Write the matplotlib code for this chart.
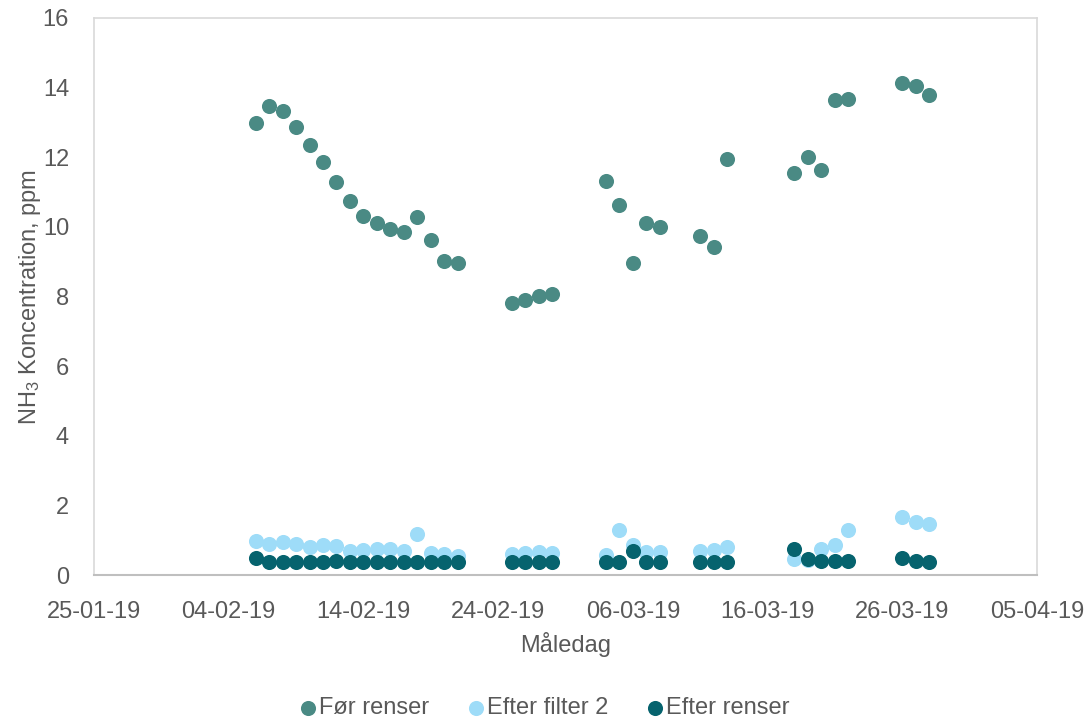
import numpy as np
import pandas as pd
import matplotlib
matplotlib.use("Agg")
import matplotlib.pyplot as plt
import matplotlib.dates as mdates

plt.rcParams['font.family'] = ['Liberation Sans', 'DejaVu Sans']
plt.rcParams['mathtext.fontset'] = 'custom'
plt.rcParams['mathtext.rm'] = 'Liberation Sans'
plt.rcParams['mathtext.it'] = 'Liberation Sans'

# measurement days
dates = pd.to_datetime([
    "2019-02-06", "2019-02-07", "2019-02-08", "2019-02-09", "2019-02-10",
    "2019-02-11", "2019-02-12", "2019-02-13", "2019-02-14", "2019-02-15",
    "2019-02-16", "2019-02-17", "2019-02-18", "2019-02-19", "2019-02-20",
    "2019-02-21",
    "2019-02-25", "2019-02-26", "2019-02-27", "2019-02-28",
    "2019-03-04", "2019-03-05", "2019-03-06", "2019-03-07", "2019-03-08",
    "2019-03-11", "2019-03-12", "2019-03-13",
    "2019-03-18", "2019-03-19", "2019-03-20", "2019-03-21", "2019-03-22",
    "2019-03-26", "2019-03-27", "2019-03-28",
])

foer_renser = [12.98, 13.46, 13.34, 12.86, 12.36, 11.87, 11.29, 10.73, 10.30, 10.11,
               9.95, 9.84, 10.28, 9.62, 9.02, 8.95,
               7.81, 7.90, 8.00, 8.06,
               11.32, 10.62, 8.96, 10.10, 10.01,
               9.74, 9.42, 11.95,
               11.54, 12.01, 11.62, 13.63, 13.66,
               14.12, 14.04, 13.78]

efter_filter2 = [0.99, 0.88, 0.94, 0.89, 0.81, 0.86, 0.84, 0.70, 0.72, 0.75,
                 0.74, 0.69, 1.19, 0.62, 0.60, 0.55,
                 0.60, 0.64, 0.65, 0.62,
                 0.58, 1.29, 0.85, 0.65, 0.67,
                 0.70, 0.72, 0.80,
                 0.46, 0.42, 0.74, 0.86, 1.29,
                 1.68, 1.51, 1.47]

efter_renser = [0.48, 0.38, 0.38, 0.38, 0.37, 0.38, 0.40, 0.37, 0.37, 0.37,
                0.37, 0.37, 0.37, 0.37, 0.37, 0.37,
                0.36, 0.36, 0.36, 0.36,
                0.36, 0.37, 0.69, 0.36, 0.36,
                0.36, 0.36, 0.36,
                0.74, 0.46, 0.41, 0.41, 0.41,
                0.48, 0.40, 0.38]

fig = plt.figure(figsize=(10.88, 7.22), dpi=100)
ax = fig.add_axes([0.0864, 0.2036, 0.8667, 0.7715])

ms = 118
ax.scatter(dates, foer_renser, s=ms, color='#4A8A84', label='Før renser', zorder=3, linewidths=0)
ax.scatter(dates, efter_filter2, s=ms, color='#9EDCF8', label='Efter filter 2', zorder=3, linewidths=0)
ax.scatter(dates, efter_renser, s=ms, color='#06636E', label='Efter renser', zorder=3, linewidths=0)

ax.set_xlim(pd.Timestamp("2019-01-25"), pd.Timestamp("2019-04-05"))
ax.set_ylim(0, 16)
ax.set_yticks(np.arange(0, 17, 2))
ticks = pd.date_range("2019-01-25", "2019-04-05", freq="10D")
ax.set_xticks(ticks)
ax.xaxis.set_major_formatter(mdates.DateFormatter('%d-%m-%y'))

for side in ['top', 'right', 'left']:
    ax.spines[side].set_color('#d9d9d9')
    ax.spines[side].set_linewidth(1.2)
ax.spines['bottom'].set_color('#bfbfbf')
ax.spines['bottom'].set_linewidth(1.5)

ax.tick_params(length=0, labelsize=17, colors='#595959')
ax.tick_params(axis='x', pad=19)
ax.tick_params(axis='y', pad=18)
ax.set_xlabel('Måledag', fontsize=17, color='#595959', labelpad=6)
ax.set_ylabel('NH$_3$ Koncentration, ppm', fontsize=17, color='#595959', labelpad=0)

fig.legend(loc='lower center', ncol=3, frameon=False, fontsize=17,
           bbox_to_anchor=(0.5, -0.025), handletextpad=0.05, handlelength=0.8,
           columnspacing=1.6, labelcolor='#595959', markerscale=1.0)

fig.savefig('out.png', dpi=100)
